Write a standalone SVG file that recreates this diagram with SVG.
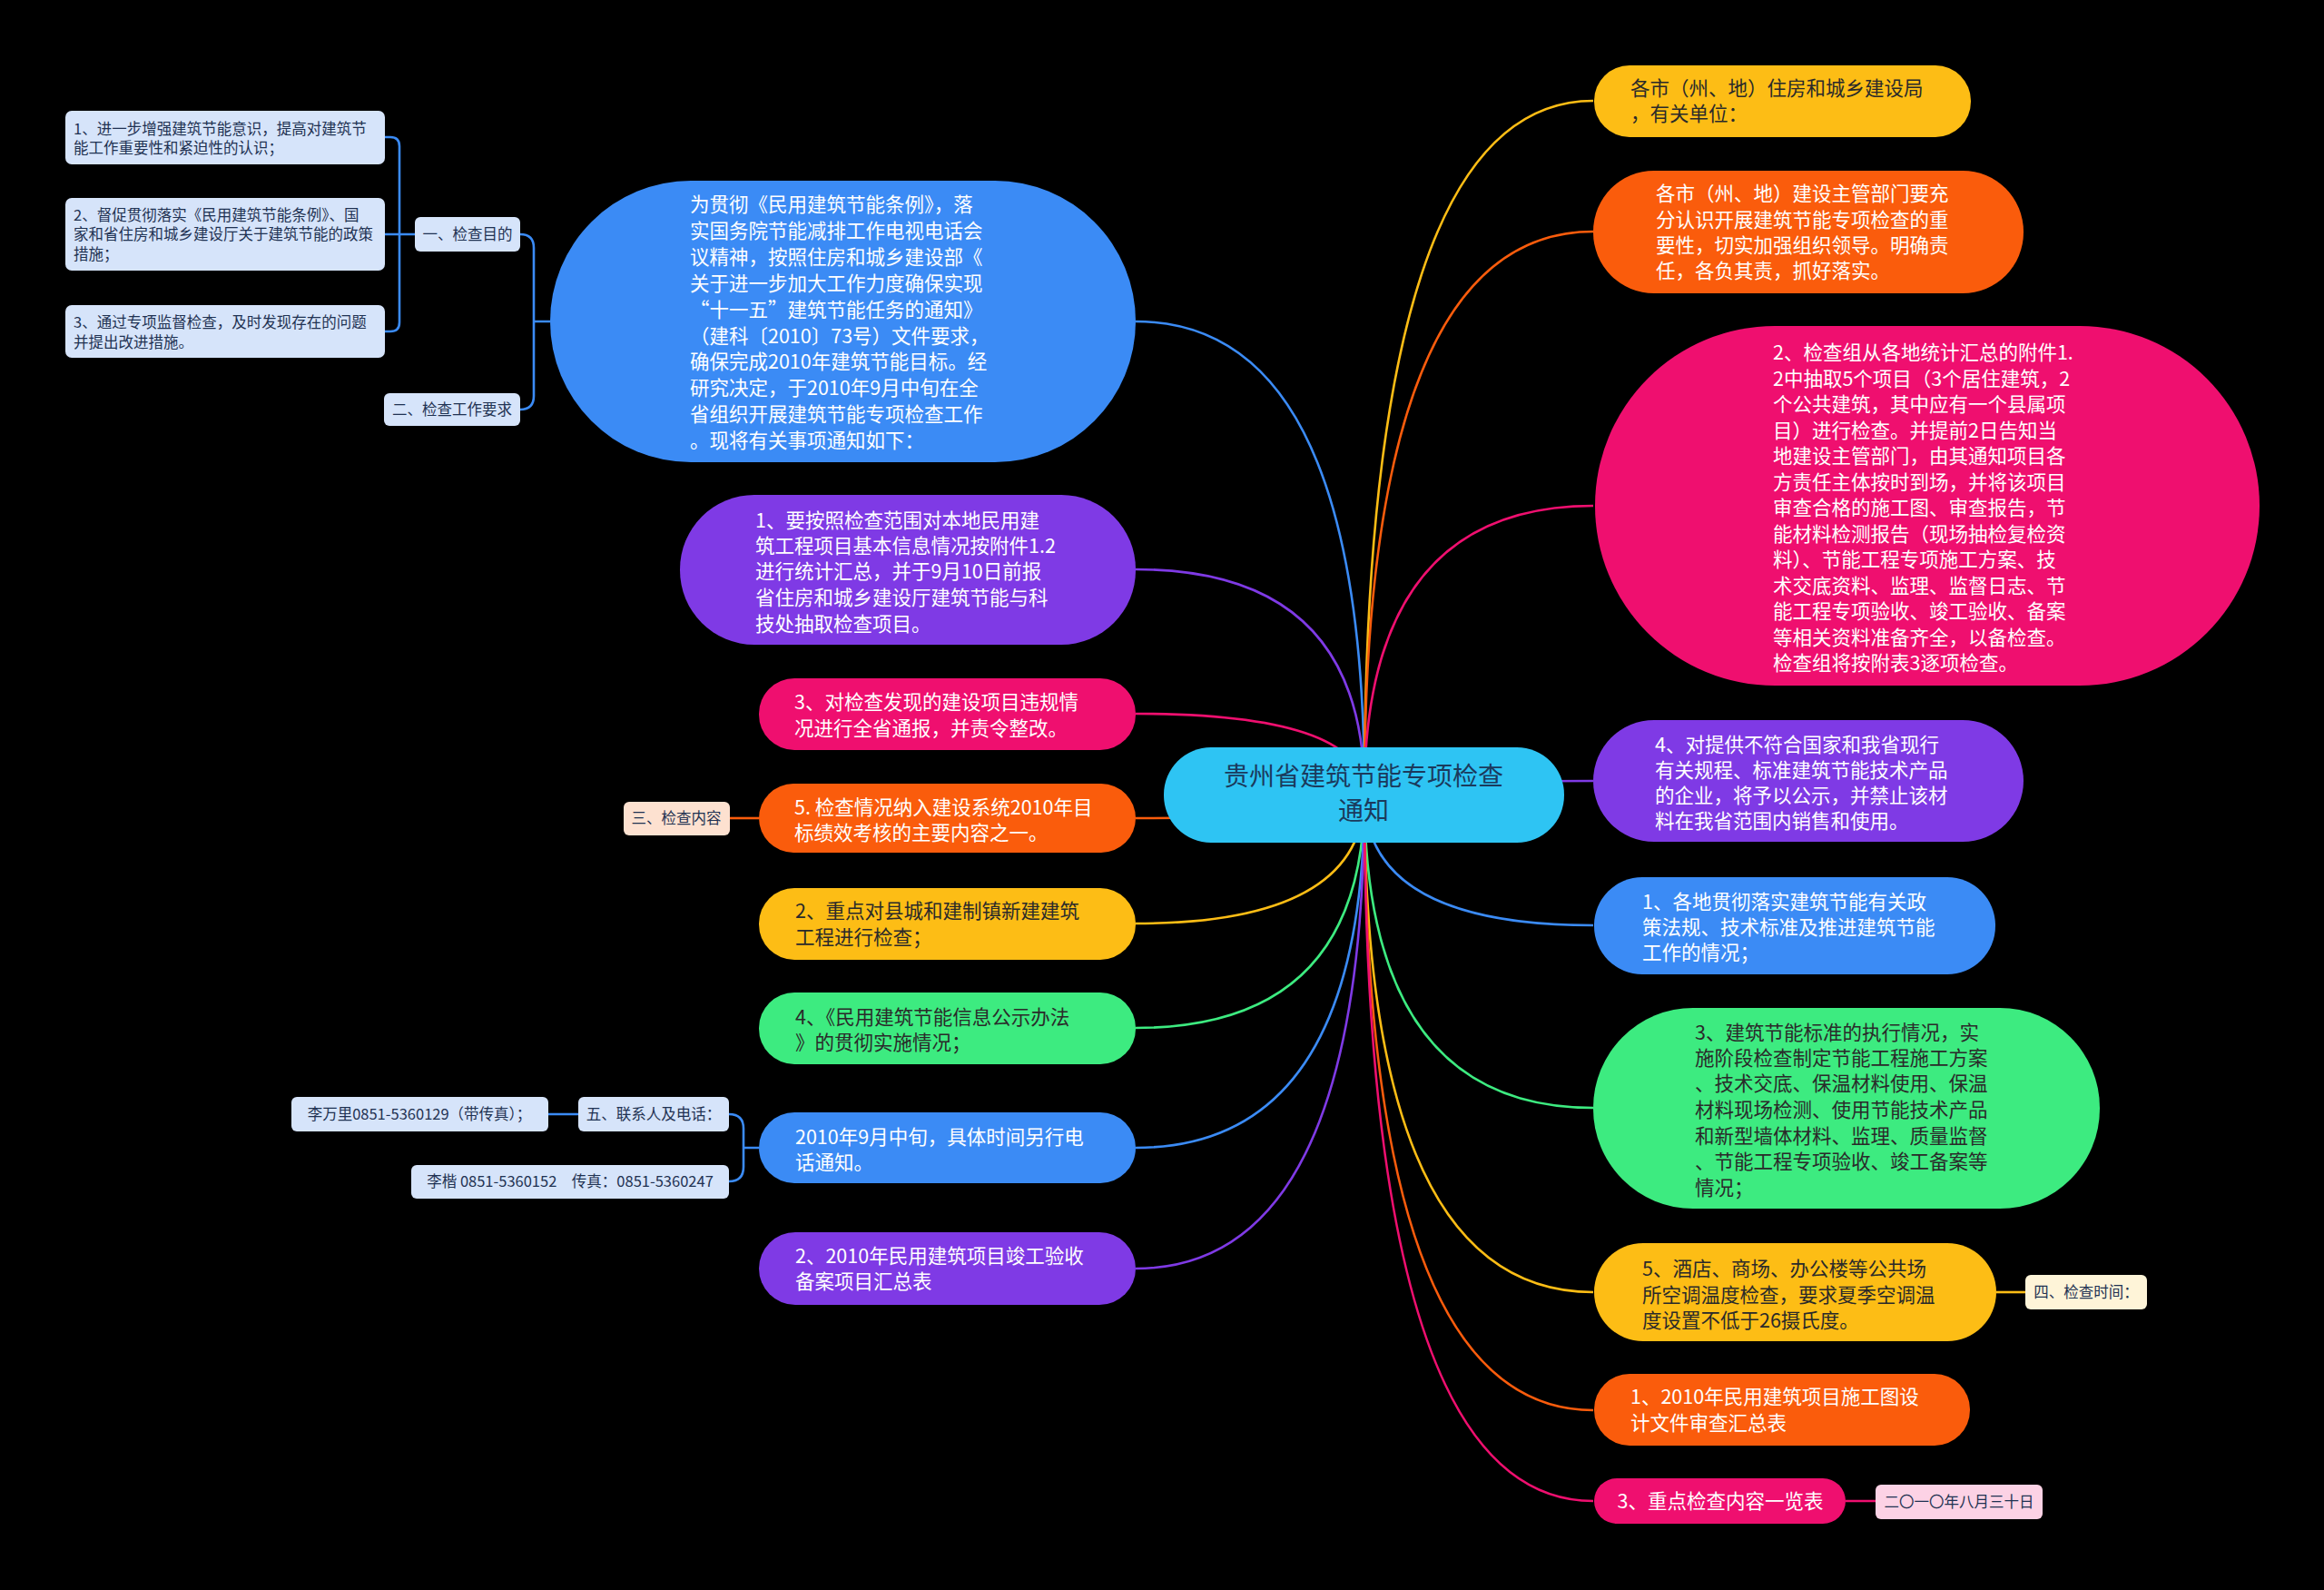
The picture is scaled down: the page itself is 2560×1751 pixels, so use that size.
<svg xmlns="http://www.w3.org/2000/svg" width="2560" height="1751" viewBox="0 0 2560 1751">
<style>
text{font-family:"Noto Sans CJK SC","Noto Sans",sans-serif;}
.t{font-size:21.5px;}
.s{font-size:16.5px;fill:#1f3252;}
.w{fill:#ffffff;}
.d{fill:#2a2a2a;}
.c{fill:none;stroke-width:2.6;}
.blue{fill:#3b8bf5;}
.purple{fill:#7f3ae5;}
.pink{fill:#ef0f6f;}
.orange{fill:#fa5c0c;}
.yellow{fill:#fdbd15;}
.green{fill:#3deb80;}
.lb{fill:#d6e4fa;}
</style>
<rect width="2560" height="1751" fill="#000000"/>
<g id="connectors" class="c">
<path d="M1503 874 Q1503 354 1251 354" stroke="#3b8bf5"/>
<path d="M1503 874 Q1503 627 1251 627" stroke="#7f3ae5"/>
<path d="M1503 874 Q1503 786 1251 786" stroke="#ef0f6f"/>
<path d="M1503 874 Q1503 901 1251 901" stroke="#fa5c0c"/>
<path d="M1503 874 Q1503 1017 1251 1017" stroke="#fdbd15"/>
<path d="M1503 874 Q1503 1132 1251 1132" stroke="#3deb80"/>
<path d="M1503 874 Q1503 1264 1251 1264" stroke="#3b8bf5"/>
<path d="M1503 874 Q1503 1397 1251 1397" stroke="#7f3ae5"/>
<path d="M1503 874 Q1503 111 1755 111" stroke="#fdbd15"/>
<path d="M1503 874 Q1503 255 1755 255" stroke="#fa5c0c"/>
<path d="M1503 874 Q1503 557 1755 557" stroke="#ef0f6f"/>
<path d="M1503 874 Q1503 860 1755 860" stroke="#7f3ae5"/>
<path d="M1503 874 Q1503 1019 1755 1019" stroke="#3b8bf5"/>
<path d="M1503 874 Q1503 1220 1755 1220" stroke="#3deb80"/>
<path d="M1503 874 Q1503 1423 1755 1423" stroke="#fdbd15"/>
<path d="M1503 874 Q1503 1553 1755 1553" stroke="#fa5c0c"/>
<path d="M1503 874 Q1503 1653 1755 1653" stroke="#ef0f6f"/>
<path d="M424 151 H430 Q440 151 440 161 V355 Q440 365 430 365 H424 M424 258 H457" stroke="#3b8bf5"/>
<path d="M573 258 Q588 258 588 273 V436 Q588 451 573 451 M588 354 H606" stroke="#3b8bf5"/>
<path d="M803 1227 Q819 1227 819 1243 V1285 Q819 1301 803 1301 M819 1264 H836 M604 1227 H637" stroke="#3b8bf5"/>
<path d="M804 901 H836" stroke="#fa5c0c"/>
<path d="M2199 1423 H2231" stroke="#fdbd15"/>
<path d="M2033 1653 H2066" stroke="#ef0f6f"/>
</g>
<g id="center">
<rect x="1282" y="823" width="441" height="105" rx="52" fill="#2ec4f3"/>
<text text-anchor="middle" font-size="28" fill="#1b3a5c"><tspan x="1502" y="865">贵州省建筑节能专项检查</tspan><tspan x="1502" y="903">通知</tspan></text>
</g>
<g id="n-intro">
<rect x="606" y="199" width="645" height="310" rx="155" class="blue"/>
<text class="t w" x="760"><tspan x="760" y="233">为贯彻《民用建筑节能条例》，落</tspan><tspan x="760" y="262">实国务院节能减排工作电视电话会</tspan><tspan x="760" y="291">议精神，按照住房和城乡建设部《</tspan><tspan x="760" y="320">关于进一步加大工作力度确保实现</tspan><tspan x="760" y="349">“十一五”建筑节能任务的通知》</tspan><tspan x="760" y="378">（建科〔2010〕73号）文件要求，</tspan><tspan x="760" y="406">确保完成2010年建筑节能目标。经</tspan><tspan x="760" y="435">研究决定，于2010年9月中旬在全</tspan><tspan x="760" y="464">省组织开展建筑节能专项检查工作</tspan><tspan x="760" y="493">。现将有关事项通知如下：</tspan></text>
</g>
<g id="n-goal">
<rect x="457" y="239" width="116" height="38" rx="6" class="lb"/>
<text class="s" x="515" y="264" text-anchor="middle">一、检查目的</text>
</g>
<g id="n-goal1">
<rect x="72" y="122" width="352" height="59" rx="7" class="lb"/>
<text class="s" x="81"><tspan x="81" y="148">1、进一步增强建筑节能意识，提高对建筑节</tspan><tspan x="81" y="169">能工作重要性和紧迫性的认识；</tspan></text>
</g>
<g id="n-goal2">
<rect x="72" y="218" width="352" height="80" rx="7" class="lb"/>
<text class="s" x="81"><tspan x="81" y="243">2、督促贯彻落实《民用建筑节能条例》、国</tspan><tspan x="81" y="264">家和省住房和城乡建设厅关于建筑节能的政策</tspan><tspan x="81" y="286">措施；</tspan></text>
</g>
<g id="n-goal3">
<rect x="72" y="336" width="352" height="58" rx="7" class="lb"/>
<text class="s" x="81"><tspan x="81" y="361">3、通过专项监督检查，及时发现存在的问题</tspan><tspan x="81" y="383">并提出改进措施。</tspan></text>
</g>
<g id="n-req">
<rect x="423" y="433" width="150" height="36" rx="6" class="lb"/>
<text class="s" x="498" y="457" text-anchor="middle">二、检查工作要求</text>
</g>
<g id="n-l1">
<rect x="749" y="545" width="502" height="165" rx="82" class="purple"/>
<text class="t w"><tspan x="832" y="581">1、要按照检查范围对本地民用建</tspan><tspan x="832" y="609">筑工程项目基本信息情况按附件1.2</tspan><tspan x="832" y="637">进行统计汇总，并于9月10日前报</tspan><tspan x="832" y="666">省住房和城乡建设厅建筑节能与科</tspan><tspan x="832" y="695">技处抽取检查项目。</tspan></text>
</g>
<g id="n-l2">
<rect x="836" y="747" width="415" height="79" rx="39" class="pink"/>
<text class="t w"><tspan x="875" y="781">3、对检查发现的建设项目违规情</tspan><tspan x="875" y="810">况进行全省通报，并责令整改。</tspan></text>
</g>
<g id="n-l3">
<rect x="836" y="863" width="415" height="76" rx="38" class="orange"/>
<text class="t w"><tspan x="875" y="897">5. 检查情况纳入建设系统2010年目</tspan><tspan x="875" y="925">标绩效考核的主要内容之一。</tspan></text>
</g>
<g id="n-content">
<rect x="687" y="883" width="117" height="37" rx="6" fill="#fde1d0"/>
<text class="s" x="745" y="907" text-anchor="middle" fill="#2a2a2a">三、检查内容</text>
</g>
<g id="n-l4">
<rect x="836" y="978" width="415" height="79" rx="39" class="yellow"/>
<text class="t d"><tspan x="876" y="1011">2、重点对县城和建制镇新建建筑</tspan><tspan x="876" y="1040">工程进行检查；</tspan></text>
</g>
<g id="n-l5">
<rect x="836" y="1093" width="415" height="79" rx="39" class="green"/>
<text class="t d"><tspan x="876" y="1128">4、《民用建筑节能信息公示办法</tspan><tspan x="876" y="1156">》的贯彻实施情况；</tspan></text>
</g>
<g id="n-l6">
<rect x="836" y="1225" width="415" height="78" rx="39" class="blue"/>
<text class="t w"><tspan x="876" y="1260">2010年9月中旬，具体时间另行电</tspan><tspan x="876" y="1288">话通知。</tspan></text>
</g>
<g id="n-contact">
<rect x="637" y="1208" width="166" height="38" rx="6" class="lb"/>
<text class="s" x="720" y="1233" text-anchor="middle">五、联系人及电话：</text>
</g>
<g id="n-contact1">
<rect x="321" y="1208" width="283" height="38" rx="6" class="lb"/>
<text class="s" x="462" y="1233" text-anchor="middle">李万里0851-5360129（带传真）；</text>
</g>
<g id="n-contact2">
<rect x="453" y="1283" width="350" height="37" rx="6" class="lb"/>
<text class="s" x="628" y="1307" text-anchor="middle">李楷 0851-5360152　传真：0851-5360247</text>
</g>
<g id="n-l7">
<rect x="836" y="1357" width="415" height="80" rx="40" class="purple"/>
<text class="t w"><tspan x="876" y="1391">2、2010年民用建筑项目竣工验收</tspan><tspan x="876" y="1419">备案项目汇总表</tspan></text>
</g>
<g id="n-r1">
<rect x="1756" y="72" width="415" height="79" rx="39" class="yellow"/>
<text class="t d"><tspan x="1796" y="105">各市（州、地）住房和城乡建设局</tspan><tspan x="1796" y="133">，有关单位：</tspan></text>
</g>
<g id="n-r2">
<rect x="1755" y="188" width="474" height="135" rx="67" class="orange"/>
<text class="t w"><tspan x="1824" y="221">各市（州、地）建设主管部门要充</tspan><tspan x="1824" y="250">分认识开展建筑节能专项检查的重</tspan><tspan x="1824" y="278">要性，切实加强组织领导。明确责</tspan><tspan x="1824" y="306">任，各负其责，抓好落实。</tspan></text>
</g>
<g id="n-r3">
<rect x="1757" y="359" width="732" height="396" rx="198" class="pink"/>
<text class="t w"><tspan x="1953" y="396">2、检查组从各地统计汇总的附件1.</tspan><tspan x="1953" y="424.5">2中抽取5个项目（3个居住建筑，2</tspan><tspan x="1953" y="453">个公共建筑，其中应有一个县属项</tspan><tspan x="1953" y="481.5">目）进行检查。并提前2日告知当</tspan><tspan x="1953" y="510">地建设主管部门，由其通知项目各</tspan><tspan x="1953" y="538.5">方责任主体按时到场，并将该项目</tspan><tspan x="1953" y="567">审查合格的施工图、审查报告，节</tspan><tspan x="1953" y="595.5">能材料检测报告（现场抽检复检资</tspan><tspan x="1953" y="624">料）、节能工程专项施工方案、技</tspan><tspan x="1953" y="652.5">术交底资料、监理、监督日志、节</tspan><tspan x="1953" y="681">能工程专项验收、竣工验收、备案</tspan><tspan x="1953" y="709.5">等相关资料准备齐全，以备检查。</tspan><tspan x="1953" y="738">检查组将按附表3逐项检查。</tspan></text>
</g>
<g id="n-r4">
<rect x="1755" y="793" width="474" height="134" rx="67" class="purple"/>
<text class="t w"><tspan x="1823" y="828">4、对提供不符合国家和我省现行</tspan><tspan x="1823" y="856">有关规程、标准建筑节能技术产品</tspan><tspan x="1823" y="884">的企业，将予以公示，并禁止该材</tspan><tspan x="1823" y="912">料在我省范围内销售和使用。</tspan></text>
</g>
<g id="n-r5">
<rect x="1756" y="966" width="442" height="107" rx="53" class="blue"/>
<text class="t w"><tspan x="1809" y="1001">1、各地贯彻落实建筑节能有关政</tspan><tspan x="1809" y="1029">策法规、技术标准及推进建筑节能</tspan><tspan x="1809" y="1057">工作的情况；</tspan></text>
</g>
<g id="n-r6">
<rect x="1755" y="1110" width="558" height="221" rx="110" class="green"/>
<text class="t d"><tspan x="1867" y="1145">3、建筑节能标准的执行情况，实</tspan><tspan x="1867" y="1173">施阶段检查制定节能工程施工方案</tspan><tspan x="1867" y="1201">、技术交底、保温材料使用、保温</tspan><tspan x="1867" y="1230">材料现场检测、使用节能技术产品</tspan><tspan x="1867" y="1259">和新型墙体材料、监理、质量监督</tspan><tspan x="1867" y="1287">、节能工程专项验收、竣工备案等</tspan><tspan x="1867" y="1316">情况；</tspan></text>
</g>
<g id="n-r7">
<rect x="1756" y="1369" width="443" height="108" rx="54" class="yellow"/>
<text class="t d"><tspan x="1809" y="1405">5、酒店、商场、办公楼等公共场</tspan><tspan x="1809" y="1434">所空调温度检查，要求夏季空调温</tspan><tspan x="1809" y="1462">度设置不低于26摄氏度。</tspan></text>
</g>
<g id="n-time">
<rect x="2231" y="1404" width="134" height="38" rx="6" fill="#fef4d8"/>
<text class="s" x="2298" y="1429" text-anchor="middle" fill="#2a2a2a">四、检查时间：</text>
</g>
<g id="n-r8">
<rect x="1756" y="1513" width="414" height="79" rx="39" class="orange"/>
<text class="t w"><tspan x="1796" y="1546">1、2010年民用建筑项目施工图设</tspan><tspan x="1796" y="1575">计文件审查汇总表</tspan></text>
</g>
<g id="n-r9">
<rect x="1756" y="1628" width="277" height="50" rx="25" class="pink"/>
<text class="t w" x="1895" y="1661" text-anchor="middle">3、重点检查内容一览表</text>
</g>
<g id="n-date">
<rect x="2066" y="1635" width="184" height="38" rx="6" fill="#fcd2e5"/>
<text class="s" x="2158" y="1660" text-anchor="middle" fill="#2a2a2a">二〇一〇年八月三十日</text>
</g>
</svg>
